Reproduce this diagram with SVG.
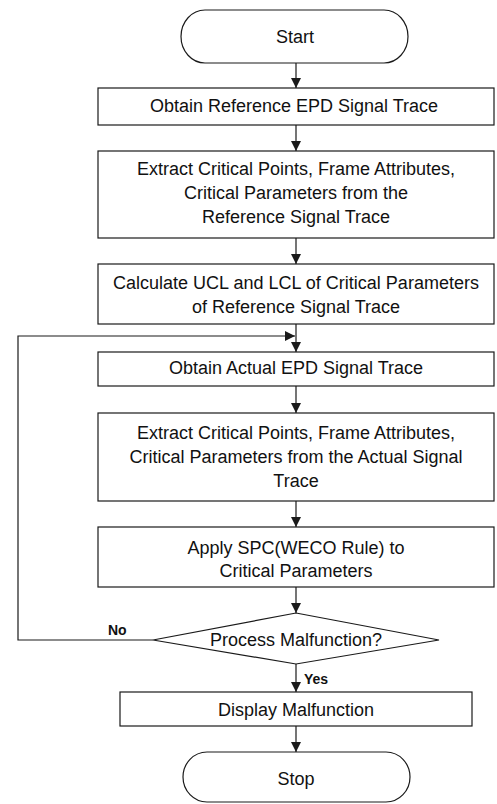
<svg xmlns="http://www.w3.org/2000/svg" width="497" height="804" viewBox="0 0 497 804">
  <style>
    .shape { fill: #ffffff; stroke: #1a1a1a; stroke-width: 1.2; }
    .label { font-family: "Liberation Sans", Arial, sans-serif; font-size: 18px; fill: #111111; text-anchor: middle; dominant-baseline: central; }
    .small { font-family: "Liberation Sans", Arial, sans-serif; font-size: 14px; font-weight: bold; fill: #111111; dominant-baseline: central; }
    .wire { fill: none; stroke: #1a1a1a; stroke-width: 1.2; }
  </style>
  <defs>
    <marker id="arrow" viewBox="0 0 10 10" refX="10" refY="5" markerWidth="10" markerHeight="11" markerUnits="userSpaceOnUse" orient="auto">
      <path d="M0,0 L10,5 L0,10 Z" fill="#1a1a1a"/>
    </marker>
  </defs>
  <rect width="497" height="804" fill="#ffffff"/>

  <!-- connectors -->
  <g id="connectors">
    <line class="wire" x1="296" y1="63" x2="296" y2="88" marker-end="url(#arrow)"/>
    <line class="wire" x1="296" y1="125" x2="296" y2="151" marker-end="url(#arrow)"/>
    <line class="wire" x1="296" y1="238" x2="296" y2="264" marker-end="url(#arrow)"/>
    <line class="wire" x1="296" y1="324" x2="296" y2="352" marker-end="url(#arrow)"/>
    <line class="wire" x1="296" y1="386" x2="296" y2="413" marker-end="url(#arrow)"/>
    <line class="wire" x1="296" y1="501" x2="296" y2="527" marker-end="url(#arrow)"/>
    <line class="wire" x1="296" y1="587" x2="296" y2="613" marker-end="url(#arrow)"/>
    <line class="wire" x1="296" y1="664" x2="296" y2="692" marker-end="url(#arrow)"/>
    <line class="wire" x1="296" y1="726" x2="296" y2="752" marker-end="url(#arrow)"/>
    <!-- "No" branch loops back above the actual-trace step -->
    <polyline class="wire" points="153,640 18,640 18,336 295,336" marker-end="url(#arrow)"/>
    <text class="small" x="108" y="630">No</text>
    <text class="small" x="304" y="679">Yes</text>
  </g>

  <g id="start">
    <rect class="shape" x="181" y="10" width="227" height="53" rx="24" ry="26.5"/>
    <text class="label" x="295" y="37">Start</text>
  </g>

  <g id="obtain-reference">
    <rect class="shape" x="98" y="88" width="396" height="37"/>
    <text class="label" x="294" y="106">Obtain Reference EPD Signal Trace</text>
  </g>

  <g id="extract-reference">
    <rect class="shape" x="98" y="151" width="396" height="87"/>
    <text class="label" x="296" y="169">Extract Critical Points, Frame Attributes,</text>
    <text class="label" x="296" y="193">Critical Parameters from the</text>
    <text class="label" x="296" y="217">Reference Signal Trace</text>
  </g>

  <g id="calculate-limits">
    <rect class="shape" x="98" y="264" width="396" height="60"/>
    <text class="label" x="296" y="283">Calculate UCL and LCL of Critical Parameters</text>
    <text class="label" x="296" y="307">of Reference Signal Trace</text>
  </g>

  <g id="obtain-actual">
    <rect class="shape" x="98" y="352" width="396" height="34"/>
    <text class="label" x="296" y="368">Obtain Actual EPD Signal Trace</text>
  </g>

  <g id="extract-actual">
    <rect class="shape" x="98" y="413" width="396" height="88"/>
    <text class="label" x="296" y="433">Extract Critical Points, Frame Attributes,</text>
    <text class="label" x="296" y="457">Critical Parameters from the Actual Signal</text>
    <text class="label" x="296" y="481">Trace</text>
  </g>

  <g id="apply-spc">
    <rect class="shape" x="98" y="527" width="396" height="60"/>
    <text class="label" x="296" y="548">Apply SPC(WECO Rule) to</text>
    <text class="label" x="296" y="571">Critical Parameters</text>
  </g>

  <g id="malfunction-check">
    <polygon class="shape" points="296,613 439,640 296,664 153,640"/>
    <text class="label" x="296" y="640">Process Malfunction?</text>
  </g>

  <g id="display-malfunction">
    <rect class="shape" x="120" y="692" width="352" height="34"/>
    <text class="label" x="296" y="710">Display Malfunction</text>
  </g>

  <g id="stop">
    <rect class="shape" x="183" y="752" width="227" height="50" rx="24" ry="25"/>
    <text class="label" x="296" y="779">Stop</text>
  </g>
</svg>
